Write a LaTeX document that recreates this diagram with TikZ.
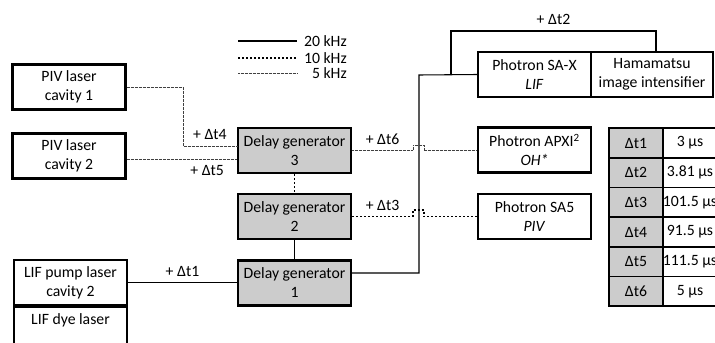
\documentclass[tikz,border=0pt]{standalone}
\usepackage{fontspec}
\setmainfont{Carlito}
\usetikzlibrary{positioning}

\begin{document}
\begin{tikzpicture}[x=0.75pt,y=-0.75pt,
  font=\fontsize{11.8}{14.2}\selectfont,
  box/.style={draw,line width=1.6pt,align=center,inner sep=0pt,
    minimum width=84.75pt,minimum height=33.75pt},
  delaybox/.style={box,fill=gray!40},
  cell/.style={draw,line width=1.2pt,inner sep=0pt,
    minimum width=40.5pt,minimum height=22.25pt},
  khz20/.style={line width=0.8pt},
  khz10/.style={line width=0.8pt,dash pattern=on 1.6pt off 1.4pt},
  khz5/.style={line width=0.7pt,draw=black!75,dash pattern=on 0.5pt off 0.5pt}]

\useasboundingbox (0,0) rectangle (715,343);
\clip (0,0) rectangle (715,343);

% Legend
\draw[khz20] (238,41) -- (297,41);
\draw[khz10] (238,58) -- (297,58);
\draw[khz5] (238,73) -- (297,73);
\node[anchor=east,inner sep=0pt] (leg20) at (347,41) {20 kHz};
\node[anchor=east,inner sep=0pt] (leg10) at (347,58) {10 kHz};
\node[anchor=east,inner sep=0pt] (leg5) at (347,73) {5 kHz};

% Lasers
\node[box] (piv1) at (69,87) {PIV laser\\cavity 1};
\node[box] (piv2) at (69,156) {PIV laser\\cavity 2};
\node[box] (pump) at (70.5,282.5) {LIF pump laser\\cavity 2};
\node[box,below=0pt of pump,minimum height=45pt,text depth=27pt] (dye) {LIF dye laser};

% Delay generators
\node[delaybox] (dg3) at (294.5,150.5) {Delay generator\\3};
\node[delaybox] (dg2) at (294.5,216.5) {Delay generator\\2};
\node[delaybox] (dg1) at (294.5,283) {Delay generator\\1};

% Cameras
\node[box] (sax) at (534.5,74.5) {Photron SA-X\\\textit{LIF}};
\node[box,minimum width=91.5pt] (ham) at (652,74.5) {Hamamatsu\\image intensifier};
\node[box] (apxi) at (534.5,150) {Photron APXI\textsuperscript{2}\\\textit{OH*}};
\node[box] (sa5) at (534.5,216.5) {Photron SA5\\\textit{PIV}};

% Delay table
\foreach \k/\val [count=\i from 0] in {1/3 µs,2/3.81 µs,3/101.5 µs,4/91.5 µs,5/111.5 µs,6/5 µs}{
  \node[cell,fill=gray!40] (dt\k) at (636,143+29.67*\i) {Δt\k};
  \node[cell] (val\k) at (690,143+29.67*\i) {\val};
}

% Trigger lines
\draw[khz20] (dg2) -- (dg1);
\draw[khz10] (dg3) -- (dg2);
\draw[khz20] (pump) -- node[above=1pt] (lt1) {+ Δt1} (dg1.west |- pump);
\draw[khz5] (piv1) -| (183,146) -- node[above=1pt] (lt4) {+ Δt4} (dg3.west |- 0,146);
\draw[khz5] (piv2.east |- 0,159) -- node[below=1pt,pos=0.73] (lt5) {+ Δt5} (dg3.west |- 0,159);
\draw[khz20] (dg1.east |- 0,273) -- (419,273) -- (419,75) -- (sax.west);
\draw[khz20] (451,75) -- (451,31) -- node[above=1pt] (lt2) {+ Δt2} (656,31) -- (656,0 |- ham.north);
\draw[khz5] (dg3.east) -- node[above=1pt] (lt6) {+ Δt6} (413,150.5)
  -- (413,145) -- (424,145) -- (424,150.5) -- (apxi.west |- dg3);
\draw[khz10] (dg2.east) -- node[above=1pt] (lt3) {+ Δt3} (413,216.5)
  -- (413,210) -- (424,210) -- (424,216.5) -- (sa5.west);

\end{tikzpicture}
\end{document}
